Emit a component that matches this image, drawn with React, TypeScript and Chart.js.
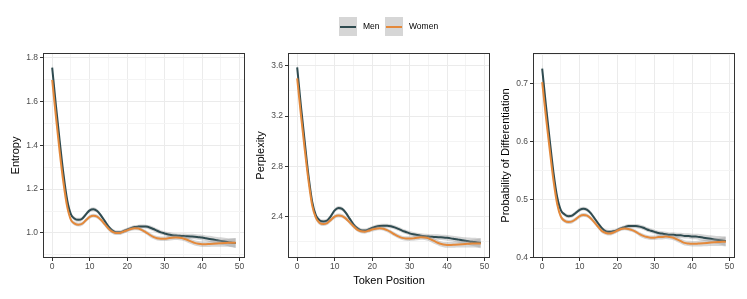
import React, { useEffect, useRef } from 'react';
import { Chart, registerables } from 'chart.js';

Chart.register(...registerables);

// ---------------- data ----------------
const tokenPositions = [
  0, 1, 2, 3, 4, 5, 6, 7, 8, 9, 10, 11, 12, 13, 14, 15, 16, 17, 18, 19, 20, 21, 22, 23, 24,
  25, 26, 27, 28, 29, 30, 31, 32, 33, 34, 35, 36, 37, 38, 39, 40, 41, 42, 43, 44, 45, 46, 47, 48, 49,
];

const entropyMen = [
  1.753, 1.58, 1.42, 1.27, 1.15, 1.085, 1.065, 1.06, 1.065, 1.085, 1.103, 1.108, 1.1, 1.08, 1.055,
  1.03, 1.012, 1.003, 1.003, 1.008, 1.015, 1.022, 1.027, 1.029, 1.03, 1.029, 1.025, 1.018, 1.01,
  1.003, 0.998, 0.993, 0.99, 0.988, 0.987, 0.986, 0.985, 0.984, 0.983, 0.981, 0.979, 0.976, 0.973,
  0.97, 0.967, 0.964, 0.961, 0.958, 0.956, 0.954,
];
const entropyWomen = [
  1.697, 1.53, 1.37, 1.23, 1.12, 1.06, 1.043, 1.038, 1.042, 1.058, 1.073, 1.079, 1.075, 1.06, 1.04,
  1.02, 1.006, 1.0, 1.0, 1.006, 1.012, 1.018, 1.021, 1.02, 1.013, 1.003, 0.992, 0.982, 0.976, 0.974,
  0.974, 0.976, 0.978, 0.979, 0.978, 0.975, 0.969, 0.962, 0.955, 0.951, 0.949, 0.949, 0.95, 0.951,
  0.952, 0.953, 0.954, 0.955, 0.955, 0.955,
];
const entropyCI = [
  0.02, 0.016, 0.013, 0.011, 0.01, 0.009, 0.009, 0.009, 0.009, 0.009, 0.009, 0.009, 0.009, 0.009,
  0.009, 0.009, 0.009, 0.009, 0.009, 0.009, 0.009, 0.009, 0.009, 0.009, 0.009, 0.009, 0.01, 0.01,
  0.01, 0.01, 0.01, 0.011, 0.011, 0.011, 0.011, 0.012, 0.012, 0.012, 0.012, 0.012, 0.013, 0.013,
  0.014, 0.014, 0.015, 0.016, 0.017, 0.018, 0.02, 0.022,
];

const perplexityMen = [
  3.587, 3.28, 3.0, 2.73, 2.52, 2.41, 2.37, 2.362, 2.37, 2.405, 2.45, 2.47, 2.462, 2.43, 2.385, 2.34,
  2.31, 2.293, 2.29, 2.298, 2.31, 2.32, 2.326, 2.328, 2.328, 2.324, 2.315, 2.303, 2.29, 2.279, 2.268,
  2.26, 2.254, 2.249, 2.245, 2.242, 2.24, 2.239, 2.237, 2.235, 2.232, 2.228, 2.223, 2.218, 2.213,
  2.209, 2.204, 2.2, 2.196, 2.193,
];
const perplexityWomen = [
  3.5, 3.21, 2.94, 2.69, 2.49, 2.39, 2.35, 2.342, 2.35, 2.375, 2.4, 2.41, 2.405, 2.385, 2.355, 2.325,
  2.298, 2.284, 2.281, 2.288, 2.298, 2.305, 2.308, 2.305, 2.293, 2.277, 2.26, 2.244, 2.232, 2.227,
  2.226, 2.228, 2.233, 2.236, 2.234, 2.228, 2.215, 2.2, 2.187, 2.179, 2.176, 2.176, 2.178, 2.18,
  2.182, 2.184, 2.186, 2.187, 2.188, 2.188,
];
const perplexityCI = [
  0.035, 0.028, 0.023, 0.019, 0.017, 0.016, 0.016, 0.016, 0.016, 0.016, 0.016, 0.016, 0.016, 0.016,
  0.016, 0.016, 0.016, 0.016, 0.016, 0.016, 0.016, 0.016, 0.016, 0.016, 0.016, 0.016, 0.017, 0.017,
  0.017, 0.017, 0.018, 0.019, 0.019, 0.019, 0.019, 0.021, 0.021, 0.021, 0.021, 0.021, 0.023, 0.023,
  0.024, 0.024, 0.026, 0.028, 0.03, 0.032, 0.035, 0.038,
];

const probMen = [
  0.725, 0.662, 0.603, 0.547, 0.504, 0.481, 0.474, 0.471, 0.472, 0.477, 0.482, 0.484, 0.482, 0.476,
  0.467, 0.458, 0.45, 0.445, 0.444, 0.445, 0.447, 0.45, 0.452, 0.454, 0.454, 0.454, 0.453, 0.451,
  0.448, 0.446, 0.444, 0.442, 0.441, 0.44, 0.439, 0.439, 0.438, 0.438, 0.437, 0.437, 0.436, 0.436,
  0.435, 0.434, 0.433, 0.432, 0.431, 0.43, 0.429, 0.428,
];
const probWomen = [
  0.702, 0.642, 0.586, 0.533, 0.492, 0.47, 0.463, 0.461, 0.462, 0.466, 0.471, 0.473, 0.472, 0.467,
  0.46, 0.452, 0.445, 0.442, 0.441, 0.443, 0.446, 0.449, 0.45, 0.449, 0.447, 0.444, 0.44, 0.437,
  0.435, 0.434, 0.434, 0.435, 0.435, 0.436, 0.435, 0.434, 0.431, 0.428, 0.425, 0.424, 0.4235, 0.4235,
  0.424, 0.4245, 0.425, 0.4255, 0.426, 0.4265, 0.427, 0.427,
];
const probCI = [
  0.0075, 0.006, 0.005, 0.0042, 0.0038, 0.0034, 0.0034, 0.0034, 0.0034, 0.0034, 0.0034, 0.0034,
  0.0034, 0.0034, 0.0034, 0.0034, 0.0034, 0.0034, 0.0034, 0.0034, 0.0034, 0.0034, 0.0034, 0.0034,
  0.0034, 0.0034, 0.0038, 0.0038, 0.0038, 0.0038, 0.0038, 0.0041, 0.0041, 0.0041, 0.0041, 0.0045,
  0.0045, 0.0045, 0.0045, 0.0045, 0.0049, 0.0049, 0.0053, 0.0053, 0.0057, 0.006, 0.0064, 0.0068,
  0.0075, 0.0083,
];

const xMajorTicks = [0, 10, 20, 30, 40, 50];
const xMinorTicks = [5, 15, 25, 35, 45];

const entropyMajor = [1.0, 1.2, 1.4, 1.6, 1.8];
const entropyMinor = [0.9, 1.1, 1.3, 1.5, 1.7];
const perplexityMajor = [2.4, 2.8, 3.2, 3.6];
const perplexityMinor = [2.2, 2.6, 3.0, 3.4];
const probMajor = [0.4, 0.5, 0.6, 0.7];
const probMinor = [0.45, 0.55, 0.65, 0.75];

const seriesNames = ['Men', 'Women'];
const MEN_COLOR = '#2F4B50';
const WOMEN_COLOR = '#E4893B';
const RIBBON = 'rgba(153,153,153,0.4)';
const FONT = '"Liberation Sans", Arial, Helvetica, sans-serif';

type PanelCfg = {
  title: string;
  men: number[];
  women: number[];
  ci: number[];
  yMin: number;
  yMax: number;
  major: number[];
  minor: number[];
  xTitle: string;
};

const panels: PanelCfg[] = [
  { title: 'Entropy', men: entropyMen, women: entropyWomen, ci: entropyCI, yMin: 0.886, yMax: 1.82, major: entropyMajor, minor: entropyMinor, xTitle: '' },
  { title: 'Perplexity', men: perplexityMen, women: perplexityWomen, ci: perplexityCI, yMin: 2.072, yMax: 3.701, major: perplexityMajor, minor: perplexityMinor, xTitle: 'Token Position' },
  { title: 'Probability of Differentiation', men: probMen, women: probWomen, ci: probCI, yMin: 0.399, yMax: 0.752, major: probMajor, minor: probMinor, xTitle: '' },
];

const panelBorder = {
  id: 'panelBorder',
  afterDatasetsDraw(chart: any) {
    const { ctx, chartArea } = chart;
    const { left, top, right, bottom } = chartArea;
    ctx.save();
    ctx.strokeStyle = '#333333';
    ctx.lineWidth = 1;
    ctx.strokeRect(left + 0.5, top + 0.5, right - left - 1, bottom - top - 1);
    ctx.restore();
  },
};

const isIn = (arr: number[], v: number) => arr.some((a) => Math.abs(a - v) < 1e-6);

function buildChart(canvas: HTMLCanvasElement, cfg: PanelCfg) {
  const pts = (vals: number[], sign: number) =>
    tokenPositions.map((x, i) => ({ x, y: vals[i] + sign * cfg.ci[i] }));
  const ribbonBase = { borderWidth: 0, pointRadius: 0, backgroundColor: RIBBON, borderColor: 'transparent', cubicInterpolationMode: 'monotone' as const };
  const lineBase = { borderWidth: 2, pointRadius: 0, fill: false, cubicInterpolationMode: 'monotone' as const };

  const yTicksAll = [...cfg.minor, ...cfg.major].sort((a, b) => a - b);
  const xTicksAll = [...xMajorTicks, ...xMinorTicks].sort((a, b) => a - b);

  return new Chart(canvas, {
    type: 'line',
    data: {
      datasets: [
        { ...lineBase, label: seriesNames[1], data: pts(cfg.women, 0), borderColor: WOMEN_COLOR },
        { ...ribbonBase, label: 'wu', data: pts(cfg.women, 1), fill: 2 },
        { ...ribbonBase, label: 'wl', data: pts(cfg.women, -1), fill: false },
        { ...lineBase, label: seriesNames[0], data: pts(cfg.men, 0), borderColor: MEN_COLOR },
        { ...ribbonBase, label: 'mu', data: pts(cfg.men, 1), fill: 5 },
        { ...ribbonBase, label: 'ml', data: pts(cfg.men, -1), fill: false },
      ] as any,
    },
    options: {
      animation: false,
      responsive: false,
      maintainAspectRatio: false,
      events: [],
      layout: { padding: { top: 53, right: 2, left: 0, bottom: 0 } },
      plugins: { legend: { display: false }, tooltip: { enabled: false } },
      scales: {
        x: {
          type: 'linear',
          min: -2.45,
          max: 51.45,
          afterBuildTicks: (scale: any) => {
            scale.ticks = xTicksAll.map((v) => ({ value: v }));
          },
          afterFit: (scale: any) => {
            scale.height = 41;
          },
          ticks: {
            autoSkip: false,
            maxRotation: 0,
            padding: 1,
            color: '#4D4D4D',
            font: { family: FONT, size: 8.5 },
            callback: (v: any) => (isIn(xMajorTicks, Number(v)) ? String(v) : ''),
          },
          grid: {
            tickLength: 3,
            color: (c: any) => (isIn(xMajorTicks, c.tick?.value) ? '#EBEBEB' : '#F4F4F4'),
            lineWidth: 1,
            tickColor: (c: any) => (isIn(xMajorTicks, c.tick?.value) ? '#333333' : 'rgba(0,0,0,0)'),
          },
          border: { display: false },
          title: {
            display: cfg.xTitle !== '',
            text: cfg.xTitle,
            color: '#000000',
            font: { family: FONT, size: 11 },
            padding: { top: 0, bottom: 11.4 },
          },
        },
        y: {
          type: 'linear',
          min: cfg.yMin,
          max: cfg.yMax,
          afterBuildTicks: (scale: any) => {
            scale.ticks = yTicksAll.map((v) => ({ value: v }));
          },
          afterFit: (scale: any) => {
            scale.width = 43;
          },
          ticks: {
            autoSkip: false,
            padding: 2,
            color: '#4D4D4D',
            font: { family: FONT, size: 8.5 },
            callback: (v: any) => (isIn(cfg.major, Number(v)) ? Number(v).toFixed(1) : ''),
          },
          grid: {
            tickLength: 3,
            color: (c: any) => (isIn(cfg.major, c.tick?.value) ? '#EBEBEB' : '#F4F4F4'),
            lineWidth: 1,
            tickColor: (c: any) => (isIn(cfg.major, c.tick?.value) ? '#333333' : 'rgba(0,0,0,0)'),
          },
          border: { display: false },
          title: {
            display: true,
            text: cfg.title,
            color: '#000000',
            font: { family: FONT, size: 11 },
            padding: { top: 9.4, bottom: 0 },
          },
        },
      },
    } as any,
    plugins: [panelBorder],
  });
}

function LegendItem({ left, color, label }: { left: number; color: string; label: string }) {
  return (
    <>
      <div style={{ position: 'absolute', left, top: 17, width: 18, height: 19, background: '#D6D6D6' }}>
        <div style={{ position: 'absolute', left: 1, width: 16, top: 9, height: 2, background: color }} />
      </div>
      <div
        style={{
          position: 'absolute',
          left: left + 24,
          top: 17,
          height: 19,
          lineHeight: '19px',
          fontFamily: FONT,
          fontSize: 8.5,
          color: '#000000',
          whiteSpace: 'nowrap',
        }}
      >
        {label}
      </div>
    </>
  );
}

export default function App() {
  const r0 = useRef<HTMLCanvasElement>(null);
  const r1 = useRef<HTMLCanvasElement>(null);
  const r2 = useRef<HTMLCanvasElement>(null);

  useEffect(() => {
    const refs = [r0, r1, r2];
    const charts = refs.map((r, i) => buildChart(r.current as HTMLCanvasElement, panels[i]));
    return () => charts.forEach((c) => c.destroy());
  }, []);

  const canvasStyle = (left: number): React.CSSProperties => ({
    position: 'absolute',
    left,
    top: 0,
    width: 247,
    height: 299,
  });

  return (
    <div style={{ position: 'absolute', left: 0, top: 0, width: 747, height: 299, background: '#ffffff', overflow: 'hidden' }}>
      <canvas ref={r0} width={247} height={299} style={canvasStyle(0)} />
      <canvas ref={r1} width={247} height={299} style={canvasStyle(245)} />
      <canvas ref={r2} width={247} height={299} style={canvasStyle(490)} />
      <LegendItem left={339} color={MEN_COLOR} label={seriesNames[0]} />
      <LegendItem left={385} color={WOMEN_COLOR} label={seriesNames[1]} />
    </div>
  );
}
